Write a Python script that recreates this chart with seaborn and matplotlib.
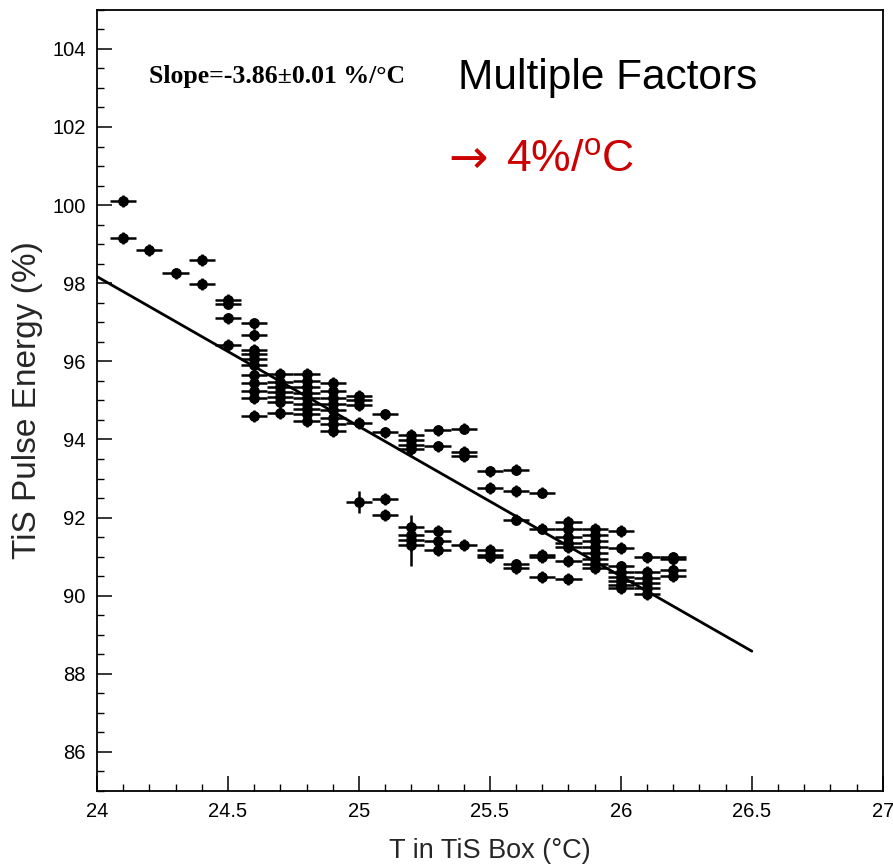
import numpy as np
import pandas as pd
import matplotlib
matplotlib.use("Agg")
import matplotlib.pyplot as plt
import seaborn as sns
from matplotlib.ticker import MultipleLocator

# ---- data ----
temps_groups = [24.1, 24.2, 24.3, 24.4, 24.5, 24.6, 24.7, 24.8, 24.9, 25.0,
                25.1, 25.2, 25.3, 25.4, 25.5, 25.6, 25.7, 25.8, 25.9, 26.0,
                26.1, 26.2]
energy_groups = [
    [100.1, 99.15],
    [98.85],
    [98.25],
    [98.6, 97.98],
    [97.58, 97.48, 97.1, 96.42],
    [96.97, 96.68, 96.3, 96.18, 96.07, 95.9, 95.65, 95.45, 95.25, 95.05, 94.6],
    [95.68, 95.48, 95.35, 95.22, 95.1, 94.97, 94.67],
    [95.68, 95.5, 95.35, 95.2, 95.05, 94.9, 94.78, 94.65, 94.48],
    [95.45, 95.25, 95.05, 94.9, 94.75, 94.55, 94.4, 94.22],
    [95.12, 95.0, 94.88, 94.42, 92.4],
    [94.64, 94.18, 92.47, 92.07],
    [94.12, 93.98, 93.85, 93.75, 91.75, 91.55, 91.42, 91.3],
    [94.23, 93.82, 91.65, 91.4, 91.16],
    [94.28, 93.68, 93.58, 91.29],
    [93.18, 92.75, 91.18, 91.05, 90.98],
    [93.23, 92.68, 91.95, 90.8, 90.7],
    [92.64, 91.72, 91.05, 91.0, 90.47],
    [91.88, 91.7, 91.5, 91.35, 91.25, 90.88, 90.42],
    [91.7, 91.55, 91.4, 91.25, 91.1, 90.95, 90.8, 90.7],
    [91.65, 91.22, 90.75, 90.6, 90.48, 90.38, 90.28, 90.2],
    [90.98, 90.6, 90.45, 90.32, 90.2, 90.05],
    [90.98, 90.95, 90.65, 90.5],
]
# points with larger vertical uncertainty: (temperature, energy, error)
large_err_points = [(25.0, 92.4, 0.28), (25.2, 91.42, 0.65)]
x_err = 0.05
y_err_default = 0.15

fit_x = [24.0, 26.5]
fit_y = [98.17, 88.58]

x_ticks = [24, 24.5, 25, 25.5, 26, 26.5, 27]
x_tick_labels = ["24", "24.5", "25", "25.5", "26", "26.5", "27"]
y_ticks = [86, 88, 90, 92, 94, 96, 98, 100, 102, 104]

# ---- build table ----
rows = []
for t, es in zip(temps_groups, energy_groups):
    for e in es:
        err = y_err_default
        for lt, le, lerr in large_err_points:
            if abs(lt - t) < 1e-9 and abs(le - e) < 1e-9:
                err = lerr
        rows.append({"T": t, "E": e, "yerr": err})
df = pd.DataFrame(rows)
fit_df = pd.DataFrame({"T": fit_x, "E": fit_y})

# ---- style ----
sns.set_style("white")
plt.rcParams["font.family"] = ["Liberation Sans", "DejaVu Sans"]
plt.rcParams["mathtext.fontset"] = "custom"
plt.rcParams["mathtext.rm"] = "Liberation Sans"

fig = plt.figure(figsize=(8.93, 8.68), dpi=100)
ax = fig.add_axes([0.1086, 0.0887, 0.880, 0.900])

# fit line
sns.lineplot(data=fit_df, x="T", y="E", ax=ax, color="black", lw=2.0,
             legend=False, zorder=2)

# error bars
ax.errorbar(df["T"], df["E"], xerr=x_err, yerr=df["yerr"], fmt="none",
            ecolor="black", elinewidth=1.8, capsize=0, zorder=3)
# markers
sns.scatterplot(data=df, x="T", y="E", ax=ax, color="black", marker="o",
                s=60, edgecolor="black", linewidth=0, zorder=4, legend=False)

ax.set_xlim(24, 27)
ax.set_ylim(85, 105)
ax.set_xticks(x_ticks)
ax.set_xticklabels(x_tick_labels)
ax.set_yticks(y_ticks)
ax.xaxis.set_minor_locator(MultipleLocator(0.1))
ax.yaxis.set_minor_locator(MultipleLocator(0.5))
ax.tick_params(axis="both", which="major", direction="in", length=10.5,
               width=1.1, color="black", labelsize=14.5, labelcolor="black",
               bottom=True, left=True, top=False, right=False, pad=8)
ax.tick_params(axis="both", which="minor", direction="in", length=5,
               width=1.0, color="black", bottom=True, left=True,
               top=False, right=False)
for sp in ax.spines.values():
    sp.set_visible(True)
    sp.set_color("black")
    sp.set_linewidth(1.3)

ax.set_xlabel("T in TiS Box (°C)", fontsize=19.5, labelpad=12)
ax.set_ylabel("TiS Pulse Energy (%)", fontsize=24, labelpad=7)

# annotations
ax.text(24.2, 103.3, "Slope=-3.86±0.01 %/°C", fontsize=18.5,
        family=["Liberation Serif", "DejaVu Serif"], weight="bold",
        va="center", ha="left", color="black")
ax.text(25.38, 103.25, "Multiple Factors", fontsize=30.5, va="center",
        ha="left", color="black")
ax.text(25.34, 101.15, "→", fontsize=34, va="center", ha="left",
        color="#cc0000", family=["DejaVu Sans"])
ax.text(25.56, 101.15, "4%/$^{\\rm o}$C", fontsize=32, va="center",
        ha="left", color="#cc0000")

fig.savefig("out.png", dpi=100)
